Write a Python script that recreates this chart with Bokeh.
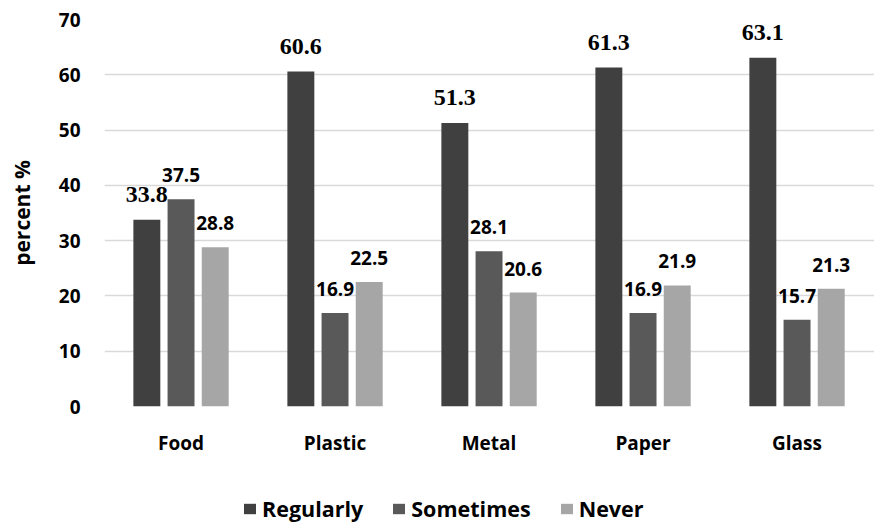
from bokeh.plotting import figure
from bokeh.layouts import column
from bokeh.models import ColumnDataSource, Range1d, FixedTicker, Legend, LegendItem
from bokeh.transform import dodge
from bokeh.core.properties import value
from bokeh.embed import file_html
from bokeh.resources import INLINE

categories = ["Food", "Plastic", "Metal", "Paper", "Glass"]
regularly = [33.8, 60.6, 51.3, 61.3, 63.1]
sometimes = [37.5, 16.9, 28.1, 16.9, 15.7]
never = [28.8, 22.5, 20.6, 21.9, 21.3]
y_ticks = [0, 10, 20, 30, 40, 50, 60, 70]

colors = ["#404040", "#595959", "#A6A6A6"]
names = ["Regularly", "Sometimes", "Never"]
offsets = [-0.222, 0.0, 0.222]

xs = list(range(len(categories)))
src = ColumnDataSource(dict(
    x=xs, Regularly=regularly, Sometimes=sometimes, Never=never,
    lr=[f"{v:.1f}" for v in regularly],
    ls=[f"{v:.1f}" for v in sometimes],
    ln=[f"{v:.1f}" for v in never],
))

p = figure(width=874, height=470, output_backend="svg", toolbar_location=None,
           x_range=Range1d(-0.497, 4.503), y_range=Range1d(0, 70),
           min_border_left=104, min_border_right=0, min_border_top=19,
           min_border_bottom=64)
p.outline_line_color = None
p.background_fill_color = "white"
p.border_fill_color = "white"

for name, col, off in zip(names, colors, offsets):
    p.vbar(x=dodge("x", off, range=p.x_range), top=name, width=0.175,
           source=src, fill_color=col, line_color=None)

label_cols = ["lr", "ls", "ln"]
for name, lc, off in zip(names, label_cols, offsets):
    if name == "Regularly":
        p.text(x=dodge("x", off, range=p.x_range), y=name, text=lc, source=src,
               text_font=value("Liberation Serif"), text_font_style="bold",
               text_font_size="24px", text_align="center", text_baseline="middle",
               y_offset=-25, text_color="black")
    else:
        p.text(x=dodge("x", off, range=p.x_range), y=name, text=lc, source=src,
               text_font=value("Open Sans"), text_font_style="bold",
               text_font_size="19px", text_align="center", text_baseline="middle",
               y_offset=-24, text_color="black")

p.xgrid.grid_line_color = None
p.ygrid.grid_line_color = "#D9D9D9"
p.ygrid.grid_line_width = 1.5
p.yaxis.ticker = FixedTicker(ticks=y_ticks)
p.xaxis.ticker = FixedTicker(ticks=xs)
p.xaxis.major_label_overrides = {i: c for i, c in enumerate(categories)}

for ax in (p.xaxis[0], p.yaxis[0]):
    ax.axis_line_color = None
    ax.major_tick_line_color = None
    ax.minor_tick_line_color = None
    ax.major_tick_in = 0
    ax.major_tick_out = 0
    ax.major_label_text_font = "Open Sans"
    ax.major_label_text_font_style = "bold"
    ax.major_label_text_font_size = "19px"
    ax.major_label_text_color = "black"

p.yaxis.major_label_standoff = 24
p.xaxis.major_label_standoff = 23
p.yaxis.axis_label = "percent %"
p.yaxis.axis_label_text_font = "Open Sans"
p.yaxis.axis_label_text_font_style = "bold"
p.yaxis.axis_label_text_font_size = "21px"
p.yaxis.axis_label_text_color = "black"
p.yaxis.axis_label_standoff = 20

# legend strip below the chart
lg = figure(width=874, height=53, output_backend="svg", toolbar_location=None,
            x_range=Range1d(0, 1), y_range=Range1d(0, 1),
            min_border=0, min_border_left=0, min_border_right=0,
            min_border_top=0, min_border_bottom=0)
lg.axis.visible = False
lg.grid.visible = False
lg.outline_line_color = None
dummy = ColumnDataSource(dict(x=[0.5], top=[0]))
leg_renderers = [lg.vbar(x="x", top="top", width=0.001, source=dummy,
                         fill_color=c, line_color=None) for c in colors]
legend = Legend(items=[LegendItem(label=n, renderers=[r]) for n, r in zip(names, leg_renderers)],
                orientation="horizontal", location=(138, 0),
                label_text_font="Open Sans", label_text_font_style="bold",
                label_text_font_size="21.5px", label_text_color="black",
                glyph_width=15, glyph_height=13, label_standoff=5, spacing=28,
                padding=0, margin=0, border_line_color=None,
                background_fill_alpha=0)
lg.add_layout(legend, "center")

layout = column(p, lg, spacing=0)
open("out.html", "w").write(file_html(layout, INLINE))
